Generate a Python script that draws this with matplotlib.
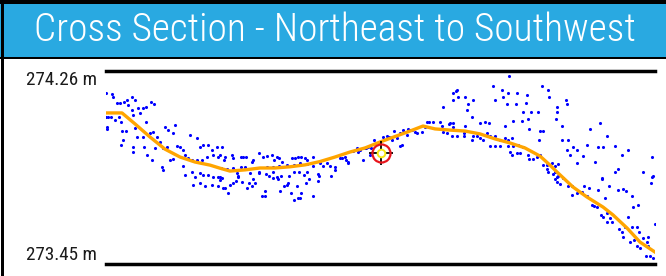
import matplotlib
matplotlib.use("Agg")
import matplotlib.pyplot as plt
from matplotlib import font_manager
from matplotlib.patches import Rectangle

# profile (distance along section in m, elevation in m)
profile_dist = [0, 16, 29, 44, 59, 74, 89, 104, 114, 124, 139, 154, 169, 184, 199,
                214, 229, 244, 259, 274, 289, 304, 317, 329, 344, 359, 374, 389,
                404, 419, 434, 444, 451, 467, 481, 497, 507, 521, 534, 549]
profile_elev = [274.084, 274.084, 274.038, 273.983, 273.932, 273.899, 273.878,
                273.865, 273.852, 273.840, 273.845, 273.853, 273.853, 273.858,
                273.866, 273.880, 273.899, 273.920, 273.937, 273.962, 273.985,
                274.008, 274.029, 274.017, 274.012, 274.008, 273.996, 273.975,
                273.958, 273.937, 273.903, 273.865, 273.836, 273.773, 273.731,
                273.689, 273.656, 273.601, 273.542, 273.500]

# survey shots (distance, elevation)
shots = [
    (0, 274.167), (6, 274.163), (7, 274.151), (11, 274.125), (14, 274.125), (18, 274.130),
    (21, 274.138), (26, 274.151), (29, 274.138), (22, 274.117), (32, 274.104), (37, 274.104),
    (40, 274.109), (45, 274.130), (48, 274.121), (0, 274.067), (2, 274.067), (5, 274.067),
    (9, 274.054), (13, 274.067), (15, 274.046), (1, 274.025), (1, 274.016), (27, 274.075),
    (26, 274.096), (34, 274.083), (40, 274.046), (29, 274.020), (16, 274.008), (20, 274.008),
    (31, 273.983), (17, 273.970), (27, 273.941), (15, 273.949), (27, 273.920), (37, 273.983),
    (38, 273.941), (44, 273.999), (47, 274.004), (51, 273.983), (59, 274.025), (62, 274.012),
    (67, 273.999), (69, 274.033), (41, 273.907), (46, 273.886), (49, 273.936), (54, 273.962),
    (57, 273.936), (61, 273.941), (64, 273.886), (67, 273.890), (71, 273.945), (74, 273.941),
    (77, 273.928), (79, 273.907), (82, 273.894), (84, 273.991), (91, 273.978), (94, 273.941),
    (97, 273.949), (102, 273.949), (106, 273.928), (111, 273.941), (114, 273.907), (118, 273.886),
    (56, 273.857), (77, 273.861), (86, 273.886), (91, 273.886), (96, 273.886), (101, 273.899),
    (107, 273.907), (112, 273.899), (86, 273.836), (94, 273.831), (102, 273.823), (114, 273.815),
    (57, 273.844), (79, 273.823), (89, 273.815), (97, 273.823), (107, 273.815), (112, 273.815),
    (87, 273.781), (94, 273.789), (99, 273.777), (106, 273.781), (112, 273.777), (114, 273.802),
    (117, 273.768), (122, 273.747), (124, 273.781),
    (116, 273.810), (119, 273.768), (127, 273.789), (130, 273.798), (132, 273.819), (136, 273.794),
    (141, 273.768), (143, 273.789), (146, 273.777), (149, 273.789), (147, 273.806), (153, 273.831),
    (156, 273.735), (159, 273.735), (159, 273.756), (160, 273.827), (163, 273.819), (167, 273.810),
    (167, 273.836), (171, 273.815), (172, 273.806), (175, 273.819), (174, 273.756), (178, 273.777),
    (181, 273.781), (182, 273.789), (183, 273.819), (185, 273.747), (188, 273.718), (188, 273.836),
    (191, 273.777), (192, 273.726), (194, 273.726), (195, 273.747), (193, 273.836), (198, 273.823),
    (200, 273.789), (201, 273.836), (203, 273.806), (207, 273.735), (212, 273.827), (213, 273.819),
    (212, 273.798), (225, 273.819), (229, 273.844),
    (116, 273.941), (119, 273.899), (126, 273.907), (127, 273.894), (135, 273.899), (137, 273.899),
    (140, 273.899), (147, 273.886), (146, 273.878), (153, 273.915), (157, 273.899), (161, 273.903),
    (166, 273.907), (168, 273.886), (171, 273.899), (173, 273.894), (176, 273.878), (186, 273.894),
    (189, 273.894), (192, 273.899), (195, 273.899), (199, 273.894), (201, 273.886), (207, 273.899),
    (214, 273.873), (217, 273.861), (221, 273.873), (224, 273.861), (229, 273.857), (234, 273.894),
    (239, 273.899), (240, 273.886), (242, 273.873), (247, 273.924), (251, 273.936), (254, 273.928),
    (257, 273.886), (260, 273.936), (262, 273.941), (268, 273.970), (264, 273.907), (277, 273.983),
    (281, 273.987), (283, 273.983), (286, 273.970), (288, 274.008), (291, 273.978), (294, 273.999),
    (297, 274.012), (299, 274.004), (301, 273.991), (302, 274.016), (306, 274.012), (309, 274.004),
    (311, 273.999), (316, 274.004), (321, 274.046), (323, 274.046), (327, 274.046), (319, 274.025),
    (334, 274.046), (336, 274.029), (337, 274.109), (344, 274.041), (294, 273.945), (296, 273.949),
    (115, 273.852), (121, 273.848), (127, 273.852), (135, 273.857), (139, 273.857), (131, 273.831),
    (144, 273.831), (153, 273.836), (161, 273.857), (167, 273.857), (173, 273.861), (181, 273.865),
    (188, 273.865), (194, 273.873), (201, 273.869), (207, 273.861), (132, 273.815),
    (236, 273.894), (242, 273.878), (252, 273.920), (259, 273.936), (265, 273.936), (304, 274.012),
    (403, 274.239), (387, 274.197), (396, 274.180), (402, 274.167), (411, 274.167), (421, 274.159),
    (436, 274.197), (442, 274.180), (443, 274.151), (397, 274.151), (389, 274.138), (401, 274.121),
    (410, 274.121), (420, 274.125), (460, 274.138), (461, 274.121), (451, 274.109), (451, 274.088),
    (417, 274.088), (425, 274.088), (432, 274.088), (422, 274.058), (416, 274.050), (407, 274.050),
    (450, 274.058), (456, 274.029), (399, 274.029), (423, 274.016), (434, 274.008), (437, 274.008),
    (484, 274.016), (494, 274.041), (501, 273.987), (433, 273.970), (456, 273.970), (462, 273.970),
    (481, 273.949), (509, 273.945), (522, 273.928), (492, 273.941), (497, 273.941), (516, 273.907),
    (471, 273.928), (461, 273.928), (467, 273.941), (464, 273.907), (477, 273.903), (471, 273.873),
    (489, 273.878), (546, 273.899), (509, 273.836), (512, 273.848), (537, 273.836), (546, 273.815),
    (496, 273.810), (347, 274.167), (350, 274.176), (351, 274.180), (347, 274.138), (352, 274.151),
    (359, 274.151), (362, 274.121), (367, 274.138), (361, 274.096), (366, 274.067), (343, 274.037),
    (347, 274.041), (347, 274.025), (359, 274.029), (374, 274.041), (379, 274.046), (383, 274.041),
    (358, 273.999), (358, 273.987), (351, 273.987), (346, 273.987), (341, 273.999), (337, 274.004),
    (371, 273.987), (374, 273.978), (377, 273.970), (381, 273.999), (384, 273.987), (389, 273.987),
    (394, 273.970), (399, 273.978), (402, 273.970), (406, 273.978), (384, 273.945), (389, 273.945),
    (394, 273.945), (402, 273.945), (407, 273.945), (412, 273.949), (417, 273.941), (404, 273.920),
    (411, 273.915), (414, 273.915), (406, 273.907), (422, 273.907), (423, 273.890), (427, 273.890),
    (431, 273.899), (434, 273.907), (437, 273.865), (441, 273.865), (441, 273.848), (446, 273.873),
    (449, 273.861), (452, 273.869), (449, 273.836), (452, 273.819), (457, 273.810), (366, 273.970),
    (367, 273.987),
    (442, 273.836), (447, 273.827), (449, 273.806), (451, 273.815), (454, 273.785), (451, 273.794),
    (462, 273.777), (466, 273.777), (466, 273.739), (471, 273.747), (476, 273.752), (478, 273.777),
    (483, 273.768), (481, 273.735), (486, 273.697), (488, 273.693), (491, 273.689), (492, 273.760),
    (496, 273.806), (499, 273.726), (503, 273.777), (495, 273.655), (497, 273.647), (501, 273.663),
    (504, 273.642), (501, 273.626), (506, 273.626), (512, 273.760), (517, 273.764), (520, 273.756),
    (526, 273.735), (547, 273.819), (545, 273.789), (527, 273.689), (532, 273.697), (513, 273.596),
    (516, 273.584), (519, 273.605), (522, 273.647), (526, 273.605), (531, 273.605), (533, 273.584),
    (517, 273.563), (524, 273.542), (528, 273.550), (537, 273.558), (542, 273.563), (541, 273.542),
    (531, 273.525), (534, 273.516), (540, 273.483), (544, 273.483), (547, 273.474), (549, 273.617),
    (542, 273.525),
]
shot_dist = [s[0] for s in shots]
shot_elev = [s[1] for s in shots]

target_dist = 275
target_elev = 273.914

elev_min, elev_max = 273.45, 274.26

# pick a narrow face if one is around
fonts = font_manager.fontManager.ttflist
names = {f.name for f in fonts}
font_kw = {"family": "Roboto"}
for cand in ["Roboto Condensed", "Liberation Sans Narrow", "Open Sans Condensed"]:
    if cand in names:
        font_kw = {"family": cand}
        break
else:
    if any(f.name == "DejaVu Sans" and f.stretch == "condensed" for f in fonts):
        font_kw = {"family": "DejaVu Sans", "stretch": "condensed"}

fig = plt.figure(figsize=(6.66, 2.76), dpi=100)
W, H = 666, 276

# frame + title bar
fig.patches.append(Rectangle((0, 272 / H), 1, 4 / H, transform=fig.transFigure,
                             facecolor="black", edgecolor="none"))
fig.patches.append(Rectangle((0, 219 / H), 1, 53 / H, transform=fig.transFigure,
                             facecolor="#29a9e1", edgecolor="none"))
fig.patches.append(Rectangle((0, 217 / H), 1, 2 / H, transform=fig.transFigure,
                             facecolor="black", edgecolor="none"))
fig.patches.append(Rectangle((1 / W, 0), 3 / W, 1, transform=fig.transFigure,
                             facecolor="black", edgecolor="none"))

title = fig.text(0.503, 246 / H, "Cross Section - Northeast to Southwest",
                 color="white", fontsize=24, weight="light", ha="center", va="center",
                 **font_kw)

ax = fig.add_axes([106 / W, 12 / H, 549 / W, 193 / H])
ax.set_xlim(0, 549)
ax.set_ylim(elev_min, elev_max)
ax.axis("off")

ax.axhline(elev_max, color="black", lw=2.5, clip_on=False)
ax.axhline(elev_min, color="black", lw=2.5, clip_on=False)

ax.scatter(shot_dist, shot_elev, s=5, color="#0000ff", marker="o", linewidths=0, zorder=2)
ax.plot(profile_dist, profile_elev, color="#ffa500", lw=2.4, zorder=3)

# target marker
ax.plot(target_dist, target_elev, marker="+", ms=17, mew=1.3, color="black", zorder=4)
ax.plot(target_dist, target_elev, marker="o", ms=13, mew=1.6, mfc="none", mec="#e8141b", zorder=5)
ax.plot(target_dist, target_elev, marker="o", ms=5.5, mew=1.4, mfc="white", mec="#f5e612", zorder=6)

top_lbl = ax.text(-9 / 549, 1.0, f"{elev_max:.2f} m", transform=ax.transAxes, ha="right",
                  va="top", fontsize=12, color="#1a1a1a", **font_kw)
bot_lbl = ax.text(-9 / 549, 0.0, f"{elev_min:.2f} m", transform=ax.transAxes, ha="right",
                  va="bottom", fontsize=12, color="#1a1a1a", **font_kw)

# fit text widths to the reference
fig.canvas.draw()
r = fig.canvas.get_renderer()
title.set_fontsize(24 * 603 / title.get_window_extent(r).width)
for t in (top_lbl, bot_lbl):
    t.set_fontsize(12 * 71 / t.get_window_extent(r).width)

fig.savefig("out.png", dpi=100)
